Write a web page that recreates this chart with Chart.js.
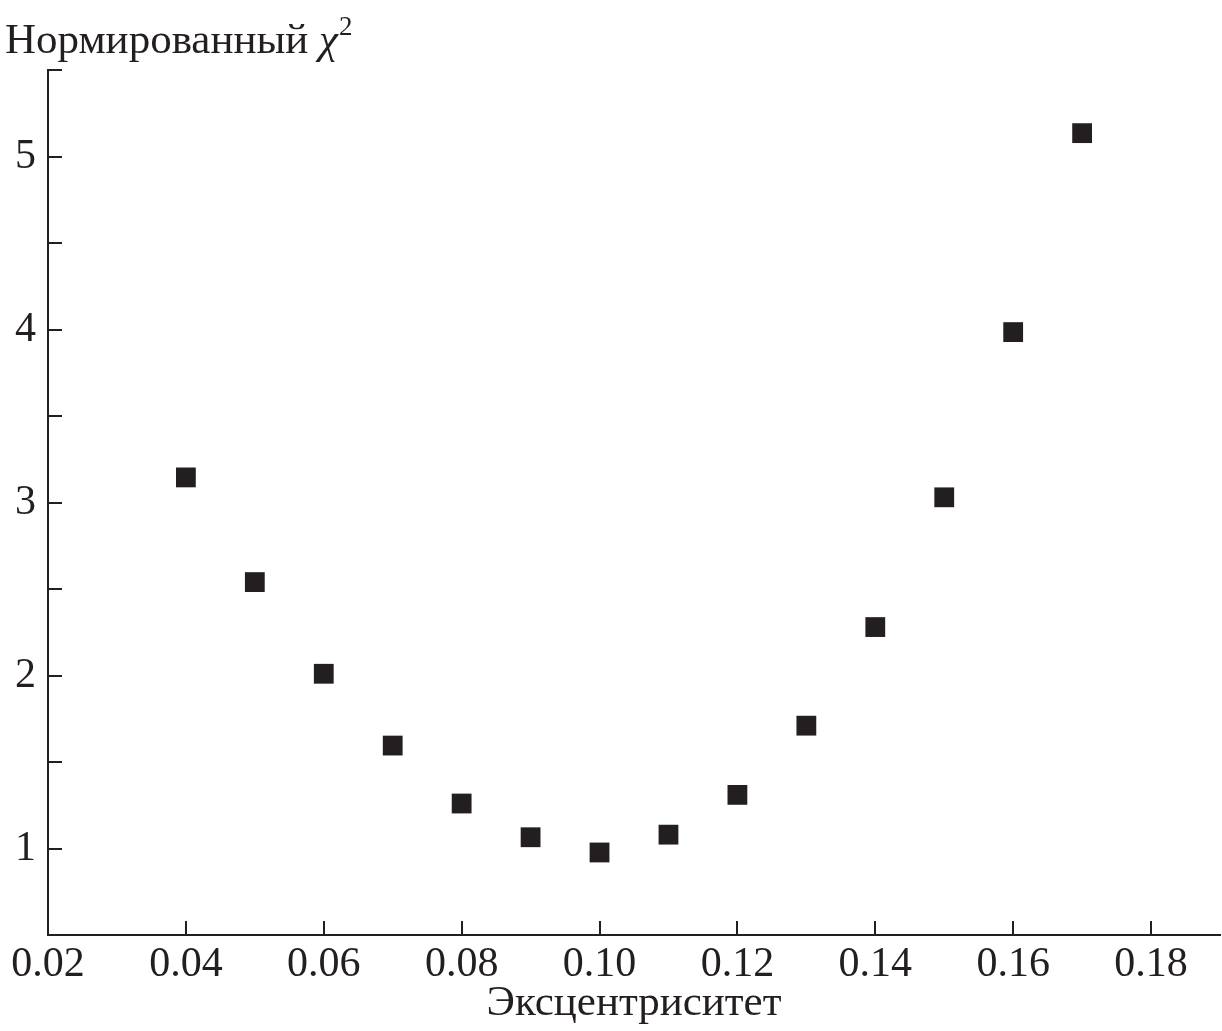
<!DOCTYPE html>
<html>
<head>
<meta charset="utf-8">
<script src="https://cdn.jsdelivr.net/npm/chart.js@4.4.1/dist/chart.umd.min.js"></script>
<style>
  html, body { margin: 0; padding: 0; background: #fff; overflow: hidden; }
  #wrap { width: 1222px; height: 1031px; position: relative; }
  canvas { display: block; }
</style>
</head>
<body>
<div id="wrap"><canvas id="grafico"></canvas></div>
<script>
// datos
var ekscentrisitet = [0.04, 0.05, 0.06, 0.07, 0.08, 0.09, 0.10, 0.11, 0.12, 0.13, 0.14, 0.15, 0.16, 0.17];
var chi2 = [3.145, 2.54, 2.01, 1.595, 1.26, 1.065, 0.977, 1.08, 1.31, 1.71, 2.28, 3.03, 3.985, 5.135];
var ticks_x = [0.02, 0.04, 0.06, 0.08, 0.10, 0.12, 0.14, 0.16, 0.18];
var ticks_y = [0.5, 1, 1.5, 2, 2.5, 3, 3.5, 4, 4.5, 5, 5.5];
var etiquetas_y = [1, 2, 3, 4, 5];
var titulo_y = "Нормированный ";

var color_tinta = "#231f20";
var fuente = "'Liberation Serif', 'DejaVu Serif', serif";

var puntos = [];
for (var i = 0; i < ekscentrisitet.length; i++) {
	puntos.push({x: ekscentrisitet[i], y: chi2[i]});
}

// ticks hacia adentro + titulo del eje y (con el superindice)
var ticksAdentro = {
	id: "ticksAdentro",
	afterDraw: function (chart) {
		var ctx = chart.ctx;
		var xs = chart.scales.x, ys = chart.scales.y;
		var area = chart.chartArea;
		ctx.save();
		ctx.strokeStyle = color_tinta;
		ctx.lineWidth = 2;
		ctx.beginPath();
		xs.ticks.forEach(function (t) {
			var px = Math.round(xs.getPixelForValue(t.value));
			if (px <= area.left + 1) return;
			ctx.moveTo(px, area.bottom);
			ctx.lineTo(px, area.bottom - 14);
		});
		ys.ticks.forEach(function (t) {
			var py = Math.round(ys.getPixelForValue(t.value));
			if (py >= area.bottom - 1) return;
			ctx.moveTo(area.left, py);
			ctx.lineTo(area.left + 14, py);
		});
		ctx.stroke();

		// titulo
		ctx.fillStyle = color_tinta;
		ctx.textBaseline = "alphabetic";
		ctx.textAlign = "left";
		ctx.font = "43px " + fuente;
		var x0 = 5;
		ctx.fillText(titulo_y, x0, 53);
		x0 += ctx.measureText(titulo_y).width;
		ctx.font = "italic 43px " + fuente;
		ctx.fillText("χ", x0, 53);
		x0 += ctx.measureText("χ").width + 1;
		ctx.font = "27px " + fuente;
		ctx.fillText("2", x0, 35);
		ctx.restore();
	}
};

new Chart(document.getElementById("grafico"), {
	type: "scatter",
	data: {
		datasets: [{
			label: "χ²",
			data: puntos,
			pointStyle: "rect",
			pointRadius: 14,
			pointHoverRadius: 14,
			borderWidth: 0,
			backgroundColor: color_tinta,
			borderColor: color_tinta
		}]
	},
	options: {
		responsive: true,
		maintainAspectRatio: false,
		animation: false,
		layout: { autoPadding: false, padding: { left: 0, right: 2, top: 70, bottom: 0 } },
		plugins: {
			legend: { display: false },
			tooltip: { enabled: false },
			title: { display: false }
		},
		scales: {
			x: {
				type: "linear",
				min: 0.02,
				max: 0.19,
				afterBuildTicks: function (scale) {
					scale.ticks = ticks_x.map(function (v) { return {value: v}; });
				},
				afterFit: function (scale) {
					scale.height = 96;
					scale.paddingLeft = 0;
					scale.paddingRight = 0;
				},
				grid: { display: false, drawTicks: false },
				border: { display: true, color: color_tinta, width: 2 },
				ticks: {
					color: color_tinta,
					font: { family: fuente, size: 42 },
					padding: 5,
					maxRotation: 0,
					autoSkip: false,
					callback: function (v) { return v.toFixed(2); }
				},
				title: {
					display: true,
					text: "Эксцентриситет",
					color: color_tinta,
					font: { family: fuente, size: 43 },
					padding: { top: 0, bottom: 1 }
				}
			},
			y: {
				type: "linear",
				min: 0.5,
				max: 5.5,
				afterBuildTicks: function (scale) {
					scale.ticks = ticks_y.map(function (v) { return {value: v}; });
				},
				afterFit: function (scale) {
					scale.width = 48;
					scale.paddingTop = 0;
					scale.paddingBottom = 0;
				},
				grid: { display: false, drawTicks: false },
				border: { display: true, color: color_tinta, width: 2 },
				ticks: {
					color: color_tinta,
					font: { family: fuente, size: 42 },
					padding: 12,
					autoSkip: false,
					callback: function (v) {
						return etiquetas_y.indexOf(v) >= 0 ? String(v) : "";
					}
				}
			}
		}
	},
	plugins: [ticksAdentro]
});
</script>
</body>
</html>
